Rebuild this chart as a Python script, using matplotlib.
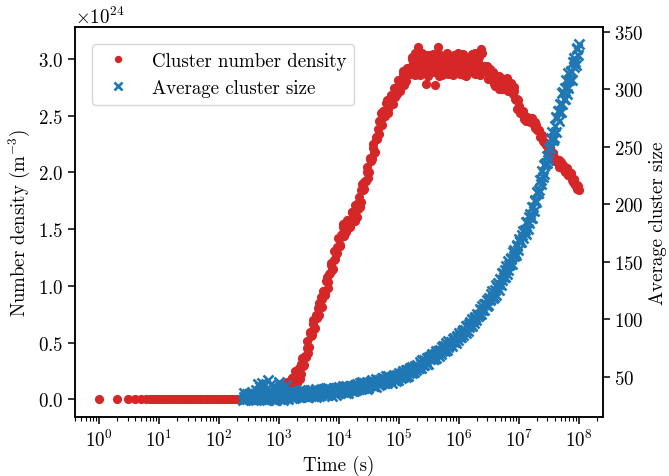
import numpy as np
import matplotlib
matplotlib.use("Agg")
import matplotlib.pyplot as plt

plt.rcParams['font.family'] = 'cmr10'
plt.rcParams['mathtext.fontset'] = 'cm'
plt.rcParams['axes.formatter.use_mathtext'] = True
plt.rcParams['font.size'] = 13.6

# ---- data ----
# early red points (seconds), density zero
red_time_early = [1, 2, 3, 4, 5, 6, 7, 8, 9, 10, 11, 12, 13, 14, 16, 18, 20, 22, 24, 27,
                  30, 33, 36, 40, 44, 48, 53, 58, 64, 70, 77, 85, 94, 103, 113, 125, 138,
                  152, 167, 184, 203, 223, 245, 270, 297, 327, 360, 396, 436, 480, 528,
                  581, 640, 704, 775, 853, 938]
red_density_early = [0.0] * len(red_time_early)

# red series, first sample set: log10(time) and density (x 1e24 m^-3)
red_log_t = [3.000, 3.025, 3.050, 3.075, 3.100, 3.125, 3.150, 3.175, 3.200, 3.225,
             3.250, 3.275, 3.300, 3.325, 3.350, 3.375, 3.400, 3.425, 3.450, 3.475,
             3.500, 3.525, 3.550, 3.575, 3.600, 3.625, 3.650, 3.675, 3.700, 3.725,
             3.750, 3.775, 3.800, 3.825, 3.850, 3.875, 3.900, 3.925, 3.950, 3.975,
             4.000, 4.025, 4.050, 4.075, 4.100, 4.125, 4.150, 4.175, 4.200, 4.225,
             4.250, 4.275, 4.300, 4.325, 4.350, 4.375, 4.400, 4.425, 4.450, 4.475,
             4.500, 4.525, 4.550, 4.575, 4.600, 4.625, 4.650, 4.675, 4.700, 4.725,
             4.750, 4.775, 4.800, 4.825, 4.850, 4.875, 4.900, 4.925, 4.950, 4.975,
             5.000, 5.025, 5.050, 5.075, 5.100, 5.125, 5.150, 5.175, 5.200, 5.225,
             5.250, 5.275, 5.300, 5.325, 5.350, 5.375, 5.400, 5.425, 5.450, 5.475,
             5.500, 5.525, 5.550, 5.575, 5.600, 5.625, 5.650, 5.675, 5.700, 5.725,
             5.750, 5.775, 5.800, 5.825, 5.850, 5.875, 5.900, 5.925, 5.950, 5.975,
             6.000, 6.025, 6.050, 6.075, 6.100, 6.125, 6.150, 6.175, 6.200, 6.225,
             6.250, 6.275, 6.300, 6.325, 6.350, 6.375, 6.400, 6.425, 6.450, 6.475,
             6.500, 6.525, 6.550, 6.575, 6.600, 6.625, 6.650, 6.675, 6.700, 6.725,
             6.750, 6.775, 6.800, 6.825, 6.850, 6.875, 6.900, 6.925, 6.950, 6.975,
             7.000, 7.025, 7.050, 7.075, 7.100, 7.125, 7.150, 7.175, 7.200, 7.225,
             7.250, 7.275, 7.300, 7.325, 7.350, 7.375, 7.400, 7.425, 7.450, 7.475,
             7.500, 7.525, 7.550, 7.575, 7.600, 7.625, 7.650, 7.675, 7.700, 7.725,
             7.750, 7.775, 7.800, 7.825, 7.850, 7.875, 7.900, 7.925, 7.950, 7.975,
             8.000]
red_density = [0.08, 0.05, 0.10, 0.13, 0.11, 0.10, 0.15, 0.15, 0.15, 0.19,
               0.17, 0.25, 0.14, 0.24, 0.18, 0.31, 0.29, 0.36, 0.37, 0.51,
               0.46, 0.59, 0.57, 0.70, 0.63, 0.74, 0.80, 0.74, 0.90, 0.88,
               0.95, 0.92, 1.08, 1.03, 1.11, 1.20, 1.15, 1.31, 1.28, 1.29,
               1.41, 1.35, 1.46, 1.54, 1.50, 1.47, 1.58, 1.565, 1.55, 1.65,
               1.61, 1.71, 1.61, 1.73, 1.69, 1.84, 1.84, 1.91, 1.92, 2.05,
               2.00, 2.13, 2.12, 2.25, 2.18, 2.31, 2.38, 2.34, 2.52, 2.48,
               2.54, 2.50, 2.64, 2.56, 2.615, 2.68, 2.60, 2.74, 2.70, 2.69,
               2.79, 2.72, 2.81, 2.89, 2.83, 2.80, 2.92, 2.91, 2.88, 3.00,
               2.93, 3.05, 2.88, 3.10, 2.86, 3.01, 2.93, 2.96, 2.78, 3.03,
               2.89, 3.00, 2.92, 3.04, 2.77, 2.97, 3.10, 2.85, 3.02, 2.93,
               2.98, 2.88, 3.05, 2.91, 2.95, 3.00, 2.86, 3.03, 2.94, 2.89,
               3.01, 2.87, 2.97, 3.04, 2.92, 2.85, 2.99, 2.95, 2.90, 3.02,
               2.94, 3.05, 2.88, 2.98, 2.86, 3.09, 2.93, 2.94, 2.89, 2.94,
               2.83, 2.89, 2.82, 2.88, 2.76, 2.81, 2.82, 2.73, 2.83, 2.77,
               2.79, 2.73, 2.83, 2.74, 2.76, 2.78, 2.69, 2.75, 2.64, 2.56,
               2.58, 2.52, 2.53, 2.53, 2.48, 2.45, 2.48, 2.47, 2.45, 2.46,
               2.42, 2.44, 2.37, 2.37, 2.31, 2.33, 2.28, 2.27, 2.24, 2.25,
               2.19, 2.20, 2.16, 2.17, 2.10, 2.11, 2.11, 2.05, 2.09, 2.05,
               2.05, 2.00, 2.04, 1.98, 1.975, 1.97, 1.91, 1.94, 1.89, 1.85,
               1.84]

# red series, second (interleaved) sample set
red_log_t_b = [3.0125, 3.0375, 3.0625, 3.0875, 3.1125, 3.1375, 3.1625, 3.1875, 3.2125, 3.2375,
               3.2625, 3.2875, 3.3125, 3.3375, 3.3625, 3.3875, 3.4125, 3.4375, 3.4625, 3.4875,
               3.5125, 3.5375, 3.5625, 3.5875, 3.6125, 3.6375, 3.6625, 3.6875, 3.7125, 3.7375,
               3.7625, 3.7875, 3.8125, 3.8375, 3.8625, 3.8875, 3.9125, 3.9375, 3.9625, 3.9875,
               4.0125, 4.0375, 4.0625, 4.0875, 4.1125, 4.1375, 4.1625, 4.1875, 4.2125, 4.2375,
               4.2625, 4.2875, 4.3125, 4.3375, 4.3625, 4.3875, 4.4125, 4.4375, 4.4625, 4.4875,
               4.5125, 4.5375, 4.5625, 4.5875, 4.6125, 4.6375, 4.6625, 4.6875, 4.7125, 4.7375,
               4.7625, 4.7875, 4.8125, 4.8375, 4.8625, 4.8875, 4.9125, 4.9375, 4.9625, 4.9875,
               5.0125, 5.0375, 5.0625, 5.0875, 5.1125, 5.1375, 5.1625, 5.1875, 5.2125, 5.2375,
               5.2625, 5.2875, 5.3125, 5.3375, 5.3625, 5.3875, 5.4125, 5.4375, 5.4625, 5.4875,
               5.5125, 5.5375, 5.5625, 5.5875, 5.6125, 5.6375, 5.6625, 5.6875, 5.7125, 5.7375,
               5.7625, 5.7875, 5.8125, 5.8375, 5.8625, 5.8875, 5.9125, 5.9375, 5.9625, 5.9875,
               6.0125, 6.0375, 6.0625, 6.0875, 6.1125, 6.1375, 6.1625, 6.1875, 6.2125, 6.2375,
               6.2625, 6.2875, 6.3125, 6.3375, 6.3625, 6.3875, 6.4125, 6.4375, 6.4625, 6.4875,
               6.5125, 6.5375, 6.5625, 6.5875, 6.6125, 6.6375, 6.6625, 6.6875, 6.7125, 6.7375,
               6.7625, 6.7875, 6.8125, 6.8375, 6.8625, 6.8875, 6.9125, 6.9375, 6.9625, 6.9875,
               7.0125, 7.0375, 7.0625, 7.0875, 7.1125, 7.1375, 7.1625, 7.1875, 7.2125, 7.2375,
               7.2625, 7.2875, 7.3125, 7.3375, 7.3625, 7.3875, 7.4125, 7.4375, 7.4625, 7.4875,
               7.5125, 7.5375, 7.5625, 7.5875, 7.6125, 7.6375, 7.6625, 7.6875, 7.7125, 7.7375,
               7.7625, 7.7875, 7.8125, 7.8375, 7.8625, 7.8875, 7.9125, 7.9375, 7.9625, 7.9875]
red_density_b = [0.05, 0.09, 0.12, 0.09, 0.13, 0.15, 0.14, 0.13, 0.19, 0.18,
                 0.15, 0.22, 0.20, 0.28, 0.22, 0.36, 0.30, 0.38, 0.45, 0.41,
                 0.58, 0.56, 0.66, 0.62, 0.73, 0.72, 0.85, 0.84, 0.81, 0.95,
                 0.93, 1.04, 0.98, 1.10, 1.18, 1.14, 1.23, 1.24, 1.34, 1.42,
                 1.36, 1.45, 1.52, 1.44, 1.53, 1.58, 1.54, 1.52, 1.65, 1.62,
                 1.57, 1.69, 1.68, 1.78, 1.74, 1.90, 1.85, 1.92, 2.00, 1.95,
                 2.12, 2.10, 2.21, 2.17, 2.29, 2.29, 2.45, 2.45, 2.42, 2.54,
                 2.51, 2.61, 2.52, 2.62, 2.67, 2.61, 2.67, 2.66, 2.75, 2.81,
                 2.73, 2.81, 2.87, 2.77, 2.87, 2.92, 2.88, 2.87, 3.02, 2.96,
                 2.86, 3.00, 2.94, 3.02, 2.89, 3.05, 2.91, 2.95, 2.99, 2.85,
                 3.03, 2.93, 3.01, 2.88, 2.98, 2.90, 3.04, 2.96, 2.86, 3.00,
                 2.92, 3.02, 2.87, 2.97, 3.01, 2.89, 2.95, 2.91, 2.99, 3.05,
                 2.90, 2.98, 3.03, 2.86, 2.96, 3.01, 2.92, 2.88, 3.04, 2.97,
                 2.87, 3.00, 2.94, 3.02, 2.89, 3.05, 2.90, 2.92, 2.92, 2.82,
                 2.91, 2.84, 2.87, 2.78, 2.82, 2.77, 2.85, 2.79, 2.73, 2.81,
                 2.75, 2.81, 2.72, 2.77, 2.79, 2.71, 2.72, 2.65, 2.65, 2.64,
                 2.54, 2.54, 2.54, 2.47, 2.49, 2.49, 2.46, 2.44, 2.48, 2.44,
                 2.39, 2.42, 2.37, 2.37, 2.31, 2.33, 2.27, 2.26, 2.25, 2.19,
                 2.22, 2.17, 2.17, 2.11, 2.12, 2.09, 2.11, 2.08, 2.04, 2.06,
                 2.02, 2.04, 1.98, 1.99, 1.99, 1.93, 1.93, 1.89, 1.89, 1.88]

# blue series, first sample set: log10(time) and average cluster size
blue_log_t = [2.400, 2.425, 2.450, 2.475, 2.500, 2.525, 2.550, 2.575, 2.600, 2.625,
              2.650, 2.675, 2.700, 2.725, 2.750, 2.775, 2.800, 2.825, 2.850, 2.875,
              2.900, 2.925, 2.950, 2.975, 3.000, 3.025, 3.050, 3.075, 3.100, 3.125,
              3.150, 3.175, 3.200, 3.225, 3.250, 3.275, 3.300, 3.325, 3.350, 3.375,
              3.400, 3.425, 3.450, 3.475, 3.500, 3.525, 3.550, 3.575, 3.600, 3.625,
              3.650, 3.675, 3.700, 3.725, 3.750, 3.775, 3.800, 3.825, 3.850, 3.875,
              3.900, 3.925, 3.950, 3.975, 4.000, 4.025, 4.050, 4.075, 4.100, 4.125,
              4.150, 4.175, 4.200, 4.225, 4.250, 4.275, 4.300, 4.325, 4.350, 4.375,
              4.400, 4.425, 4.450, 4.475, 4.500, 4.525, 4.550, 4.575, 4.600, 4.625,
              4.650, 4.675, 4.700, 4.725, 4.750, 4.775, 4.800, 4.825, 4.850, 4.875,
              4.900, 4.925, 4.950, 4.975, 5.000, 5.025, 5.050, 5.075, 5.100, 5.125,
              5.150, 5.175, 5.200, 5.225, 5.250, 5.275, 5.300, 5.325, 5.350, 5.375,
              5.400, 5.425, 5.450, 5.475, 5.500, 5.525, 5.550, 5.575, 5.600, 5.625,
              5.650, 5.675, 5.700, 5.725, 5.750, 5.775, 5.800, 5.825, 5.850, 5.875,
              5.900, 5.925, 5.950, 5.975, 6.000, 6.025, 6.050, 6.075, 6.100, 6.125,
              6.150, 6.175, 6.200, 6.225, 6.250, 6.275, 6.300, 6.325, 6.350, 6.375,
              6.400, 6.425, 6.450, 6.475, 6.500, 6.525, 6.550, 6.575, 6.600, 6.625,
              6.650, 6.675, 6.700, 6.725, 6.750, 6.775, 6.800, 6.825, 6.850, 6.875,
              6.900, 6.925, 6.950, 6.975, 7.000, 7.025, 7.050, 7.075, 7.100, 7.125,
              7.150, 7.175, 7.200, 7.225, 7.250, 7.275, 7.300, 7.325, 7.350, 7.375,
              7.400, 7.425, 7.450, 7.475, 7.500, 7.525, 7.550, 7.575, 7.600, 7.625,
              7.650, 7.675, 7.700, 7.725, 7.750, 7.775, 7.800, 7.825, 7.850, 7.875,
              7.900, 7.925, 7.950, 7.975, 8.000]
blue_size = [30.0, 36.0, 33.0, 30.5, 35.0, 32.0, 37.0, 30.0, 35.0, 30.0,
             44.0, 33.0, 30.5, 45.0, 31.0, 36.0, 30.0, 47.0, 33.0, 35.0,
             42.0, 30.0, 30.0, 36.0, 46.0, 33.0, 38.0, 30.0, 35.0, 43.0,
             30.7, 35.7, 33.4, 36.6, 31.8, 34.7, 37.2, 33.4, 38.4, 32.6,
             33.7, 37.7, 35.7, 32.3, 37.3, 34.9, 38.9, 33.7, 37.0, 32.5,
             38.2, 36.2, 33.9, 39.2, 35.5, 38.0, 34.0, 40.4, 36.6, 37.8,
             39.9, 35.9, 34.7, 39.1, 41.5, 37.8, 40.5, 36.8, 39.6, 42.2,
             36.1, 41.2, 39.1, 42.4, 37.7, 40.8, 43.5, 39.9, 45.0, 39.4,
             40.6, 44.8, 43.1, 39.9, 45.1, 43.0, 47.2, 42.2, 45.8, 41.5,
             47.4, 45.7, 43.6, 49.1, 45.7, 48.4, 44.5, 51.2, 47.7, 49.0,
             51.2, 47.3, 46.2, 50.8, 53.2, 50.0, 53.2, 50.0, 53.2, 56.3,
             50.7, 56.3, 54.6, 58.4, 54.1, 57.6, 60.8, 57.6, 63.2, 58.1,
             60.1, 64.9, 63.7, 61.1, 66.9, 65.3, 70.1, 65.7, 69.8, 66.1,
             72.6, 71.5, 70.0, 76.3, 73.5, 76.9, 73.7, 81.1, 78.3, 80.3,
             83.1, 80.0, 79.6, 84.8, 88.0, 85.1, 89.0, 86.6, 90.6, 94.6,
             89.8, 96.2, 95.3, 99.9, 96.6, 100.9, 104.9, 102.6, 109.3, 105.1,
             107.9, 113.6, 113.2, 111.5, 118.9, 117.1, 124.4, 118.6, 125.4, 121.3,
             131.7, 131.1, 130.0, 139.9, 136.8, 142.6, 139.0, 151.0, 148.5, 153.0,
             158.5, 155.0, 155.5, 164.0, 169.5, 167.0, 173.5, 171.0, 177.5, 184.3,
             178.5, 188.8, 188.5, 197.3, 194.5, 202.8, 210.5, 209.8, 221.5, 217.8,
             224.0, 234.3, 236.0, 235.8, 249.0, 248.7, 262.7, 256.0, 268.4, 263.0,
             280.8, 281.0, 280.4, 296.4, 291.6, 301.2, 295.6, 314.0, 309.2, 315.6,
             323.6, 319.0, 320.8, 335.4, 339.0]

# blue series, second (interleaved) sample set
blue_log_t_b = [2.4125, 2.4375, 2.4625, 2.4875, 2.5125, 2.5375, 2.5625, 2.5875, 2.6125, 2.6375,
                2.6625, 2.6875, 2.7125, 2.7375, 2.7625, 2.7875, 2.8125, 2.8375, 2.8625, 2.8875,
                2.9125, 2.9375, 2.9625, 2.9875, 3.0125, 3.0375, 3.0625, 3.0875, 3.1125, 3.1375,
                3.1625, 3.1875, 3.2125, 3.2375, 3.2625, 3.2875, 3.3125, 3.3375, 3.3625, 3.3875,
                3.4125, 3.4375, 3.4625, 3.4875, 3.5125, 3.5375, 3.5625, 3.5875, 3.6125, 3.6375,
                3.6625, 3.6875, 3.7125, 3.7375, 3.7625, 3.7875, 3.8125, 3.8375, 3.8625, 3.8875,
                3.9125, 3.9375, 3.9625, 3.9875, 4.0125, 4.0375, 4.0625, 4.0875, 4.1125, 4.1375,
                4.1625, 4.1875, 4.2125, 4.2375, 4.2625, 4.2875, 4.3125, 4.3375, 4.3625, 4.3875,
                4.4125, 4.4375, 4.4625, 4.4875, 4.5125, 4.5375, 4.5625, 4.5875, 4.6125, 4.6375,
                4.6625, 4.6875, 4.7125, 4.7375, 4.7625, 4.7875, 4.8125, 4.8375, 4.8625, 4.8875,
                4.9125, 4.9375, 4.9625, 4.9875, 5.0125, 5.0375, 5.0625, 5.0875, 5.1125, 5.1375,
                5.1625, 5.1875, 5.2125, 5.2375, 5.2625, 5.2875, 5.3125, 5.3375, 5.3625, 5.3875,
                5.4125, 5.4375, 5.4625, 5.4875, 5.5125, 5.5375, 5.5625, 5.5875, 5.6125, 5.6375,
                5.6625, 5.6875, 5.7125, 5.7375, 5.7625, 5.7875, 5.8125, 5.8375, 5.8625, 5.8875,
                5.9125, 5.9375, 5.9625, 5.9875, 6.0125, 6.0375, 6.0625, 6.0875, 6.1125, 6.1375,
                6.1625, 6.1875, 6.2125, 6.2375, 6.2625, 6.2875, 6.3125, 6.3375, 6.3625, 6.3875,
                6.4125, 6.4375, 6.4625, 6.4875, 6.5125, 6.5375, 6.5625, 6.5875, 6.6125, 6.6375,
                6.6625, 6.6875, 6.7125, 6.7375, 6.7625, 6.7875, 6.8125, 6.8375, 6.8625, 6.8875,
                6.9125, 6.9375, 6.9625, 6.9875, 7.0125, 7.0375, 7.0625, 7.0875, 7.1125, 7.1375,
                7.1625, 7.1875, 7.2125, 7.2375, 7.2625, 7.2875, 7.3125, 7.3375, 7.3625, 7.3875,
                7.4125, 7.4375, 7.4625, 7.4875, 7.5125, 7.5375, 7.5625, 7.5875, 7.6125, 7.6375,
                7.6625, 7.6875, 7.7125, 7.7375, 7.7625, 7.7875, 7.8125, 7.8375, 7.8625, 7.8875,
                7.9125, 7.9375, 7.9625, 7.9875]
blue_size_b = [33.0, 31.0, 35.0, 32.0, 30.5, 36.0, 33.0, 31.0, 39.0, 34.0,
               31.0, 41.0, 35.0, 30.5, 43.0, 32.0, 37.0, 31.0, 44.0, 30.5,
               36.0, 40.0, 32.0, 34.0, 31.0, 41.0, 30.5, 36.0, 33.0, 37.0,
               33.2, 36.8, 31.7, 35.3, 36.8, 32.6, 34.8, 33.5, 36.4, 38.6,
               33.4, 36.3, 38.2, 32.3, 35.9, 37.8, 34.7, 33.4, 39.1, 36.8,
               33.4, 38.0, 36.0, 38.9, 34.5, 40.2, 35.4, 36.9, 38.4, 33.8,
               40.3, 37.0, 40.0, 35.7, 39.5, 36.9, 42.0, 39.4, 36.1, 41.3,
               38.6, 42.4, 37.4, 41.1, 42.8, 38.8, 41.2, 40.0, 43.1, 45.4,
               40.4, 43.6, 45.7, 40.0, 43.9, 46.0, 43.1, 42.1, 48.0, 45.9,
               42.7, 47.6, 45.8, 49.0, 44.8, 50.7, 46.1, 47.9, 49.6, 45.0,
               51.7, 48.5, 51.6, 47.4, 51.4, 49.3, 54.9, 52.8, 50.0, 55.6,
               53.5, 57.7, 53.2, 57.3, 59.4, 55.8, 58.7, 58.0, 61.5, 64.5,
               60.2, 63.9, 66.5, 61.5, 65.9, 68.6, 66.3, 65.8, 72.3, 70.8,
               68.2, 73.7, 72.6, 76.5, 72.9, 79.5, 75.7, 78.1, 80.5, 76.6,
               84.0, 81.5, 85.3, 81.8, 86.4, 84.8, 91.1, 89.8, 87.9, 94.3,
               93.0, 98.0, 94.3, 99.3, 102.3, 99.6, 103.2, 103.5, 108.1, 111.9,
               108.5, 113.0, 116.5, 112.3, 117.8, 122.0, 119.3, 119.3, 129.6, 128.5,
               125.9, 134.8, 134.2, 140.6, 136.5, 146.8, 142.5, 147.5, 152.5, 148.5,
               160.3, 157.8, 164.3, 160.3, 168.0, 167.0, 177.0, 176.0, 174.2, 184.4,
               183.7, 191.9, 188.2, 197.4, 203.7, 201.9, 209.4, 212.2, 220.9, 228.7,
               225.9, 234.7, 241.9, 238.2, 248.5, 257.7, 255.8, 257.8, 275.7, 275.1,
               272.1, 287.5, 287.2, 297.6, 291.2, 308.0, 300.8, 308.0, 315.2, 308.0,
               326.9, 323.9, 335.3, 329.9]

red_label = 'Cluster number density'
blue_label = 'Average cluster size'
red_color = '#d62728'
blue_color = '#1f77b4'
major_xticks = [1e0, 1e1, 1e2, 1e3, 1e4, 1e5, 1e6, 1e7, 1e8]

# ---- build arrays (merge the two interleaved sample sets, sorted by time) ----
red_lt_all = np.concatenate([np.array(red_log_t), np.array(red_log_t_b)])
red_v_all = np.concatenate([np.array(red_density), np.array(red_density_b)])
order = np.argsort(red_lt_all)
red_t = np.concatenate([np.array(red_time_early, dtype=float),
                        10.0 ** red_lt_all[order]])
red_n = np.concatenate([np.array(red_density_early), red_v_all[order]]) * 1e24

blue_lt_all = np.concatenate([np.array(blue_log_t), np.array(blue_log_t_b)])
blue_v_all = np.concatenate([np.array(blue_size), np.array(blue_size_b)])
order = np.argsort(blue_lt_all)
blue_t = 10.0 ** blue_lt_all[order]
blue_s = blue_v_all[order]

fig = plt.figure(figsize=(6.69, 4.77), dpi=100)
ax = fig.add_axes([0.112, 0.1237, 0.789, 0.8176])
ax.plot(red_t, red_n, linestyle='none', marker='o', markersize=6.6,
        markeredgewidth=0, color=red_color, label=red_label)
ax.set_xscale('log')
ax.set_xlim(10 ** -0.4, 10 ** 8.4)
ax.set_xticks(major_xticks)
ax.set_ylim(-0.156e24, 3.28e24)
ax.set_yticks([0, 0.5e24, 1.0e24, 1.5e24, 2.0e24, 2.5e24, 3.0e24])
ax.set_xlabel('Time (s)')
ax.set_ylabel('Number density (m$^{-3}$)')

ax2 = ax.twinx()
ax2.plot(blue_t, blue_s, linestyle='none', marker='x', markersize=6.8,
         markeredgewidth=1.9, color=blue_color, label=blue_label)
ax2.set_ylim(15.2, 354)
ax2.set_yticks([50, 100, 150, 200, 250, 300, 350])
ax2.set_ylabel('Average cluster size')

for a in (ax, ax2):
    for s in a.spines.values():
        s.set_linewidth(1.1)
    a.tick_params(width=1.1, length=4.8)
    a.tick_params(which='minor', width=0.8, length=2.8)

h1, l1 = ax.get_legend_handles_labels()
h2, l2 = ax2.get_legend_handles_labels()
ax2.legend(h1 + h2, l1 + l2, loc='upper left', markerscale=0.8,
           borderaxespad=0.9, framealpha=0.8)

fig.savefig('out.png', dpi=100)
